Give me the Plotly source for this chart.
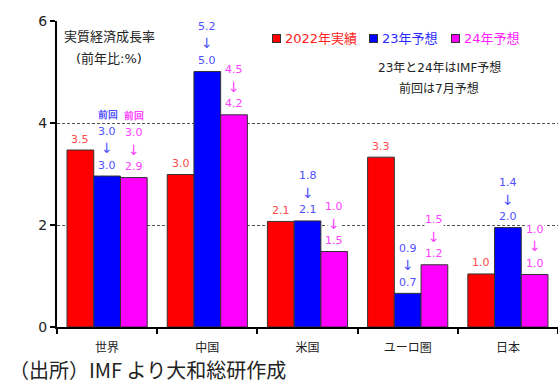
import plotly.graph_objects as go

categories = ["世界", "中国", "米国", "ユーロ圏", "日本"]
actual_2022 = [3.47, 2.99, 2.07, 3.33, 1.04]
forecast_23 = [2.96, 5.01, 2.08, 0.66, 1.95]
forecast_24 = [2.93, 4.16, 1.48, 1.22, 1.03]
label_2022 = ["3.5", "3.0", "2.1", "3.3", "1.0"]
label_23 = ["3.0", "5.0", "2.1", "0.7", "2.0"]
label_24 = ["2.9", "4.2", "1.5", "1.2", "1.0"]
prev_23 = ["3.0", "5.2", "1.8", "0.9", "1.4"]
prev_24 = ["3.0", "4.5", "1.0", "1.5", "1.0"]
series_names = ["2022年実績", "23年予想", "24年予想"]

bar_colors = ["#ff0000", "#0000ff", "#ff00ff"]
label_colors = ["#ff4a4a", "#4f4fff", "#ff40ff"]
legend_text_colors = ["#ff2020", "#2a2aff", "#ff20ff"]

W, H = 558, 385
ML, MR, MT, MB = 57, 0, 21, 58
plot_w = W - ML - MR
plot_h = H - MT - MB
cat_px = plot_w / len(categories)
bar_px = cat_px * 0.8 / 3

fig = go.Figure()
for vals, name, col in zip([actual_2022, forecast_23, forecast_24], series_names, bar_colors):
    fig.add_trace(go.Bar(x=categories, y=vals, name=name, marker=dict(color=col, line=dict(color="#333333", width=1)),
                         showlegend=False))

annots = []
font_lbl = "DejaVu Sans"

def add_label(cat, y, text, color, xs, ys, size=11, bold=False):
    annots.append(dict(x=cat, y=y, xref="x", yref="y", text=("<b>%s</b>" % text) if bold else text,
                       showarrow=False, xshift=xs, yshift=ys, bgcolor="white", borderpad=0,
                       xanchor="center", yanchor="middle",
                       font=dict(family=font_lbl, size=size, color=color)))

for i, c in enumerate(categories):
    add_label(c, actual_2022[i], label_2022[i], label_colors[0], -bar_px, 11)
    for k, (vals, cur, prev) in enumerate([(forecast_23, label_23, prev_23), (forecast_24, label_24, prev_24)]):
        xs = bar_px * k
        col = label_colors[k + 1]
        add_label(c, vals[i], cur[i], col, xs, 11)
        add_label(c, vals[i], "↓", col, xs, 28, size=14)
        add_label(c, vals[i], prev[i], col, xs, 45)
        if i == 0:
            add_label(c, vals[i], "前回", col, xs, 62, size=10, bold=True)

def px_x(px):
    return (px - ML) / plot_w

def px_y(py):
    return (H - MB - py) / plot_h

# legend (manual)
leg_sq_x = [276, 373, 455]
leg_txt_x = [283, 380, 462]
for k in range(3):
    annots.append(dict(x=px_x(leg_sq_x[k]), y=px_y(38), xref="paper", yref="paper", text="", width=7, height=7,
                       xanchor="center", yanchor="middle",
                       showarrow=False, bgcolor=bar_colors[k], bordercolor="#333333", borderwidth=1, borderpad=0))
    annots.append(dict(x=px_x(leg_txt_x[k]), y=px_y(38), xref="paper", yref="paper", text=series_names[k],
                       xanchor="left", yanchor="middle", showarrow=False,
                       font=dict(family="DejaVu Sans, Noto Sans CJK JP", size=13, color=legend_text_colors[k])))

text_font = dict(family="DejaVu Sans, Noto Sans CJK JP", size=12, color="#222222")
annots.append(dict(x=px_x(439), y=px_y(67), xref="paper", yref="paper", text="23年と24年はIMF予想",
                   xanchor="center", yanchor="middle", showarrow=False, font=text_font))
annots.append(dict(x=px_x(439), y=px_y(88), xref="paper", yref="paper", text="前回は7月予想",
                   xanchor="center", yanchor="middle", showarrow=False, font=text_font))
annots.append(dict(x=px_x(109), y=px_y(36), xref="paper", yref="paper", text="実質経済成長率",
                   xanchor="center", yanchor="middle", showarrow=False, bgcolor="white",
                   font=dict(family="DejaVu Sans, Noto Sans CJK JP", size=13, color="#222222")))
annots.append(dict(x=px_x(109), y=px_y(58), xref="paper", yref="paper", text="(前年比:%)",
                   xanchor="center", yanchor="middle", showarrow=False,
                   font=dict(family="DejaVu Sans, Noto Sans CJK JP", size=13, color="#222222")))
annots.append(dict(x=px_x(8), y=px_y(369), xref="paper", yref="paper", text="（出所）IMF より大和総研作成",
                   xanchor="left", yanchor="middle", showarrow=False, borderpad=0,
                   font=dict(family="Noto Sans CJK JP", size=20, color="#222222")))

fig.update_layout(
    width=W, height=H,
    margin=dict(l=ML, r=MR, t=MT, b=MB, pad=0),
    paper_bgcolor="white", plot_bgcolor="white",
    barmode="group", bargap=0.2, bargroupgap=0,
    annotations=annots,
    showlegend=False,
    xaxis=dict(type="category", tickson="boundaries", ticks="outside", ticklen=5, tickwidth=2, tickcolor="black",
               showline=True, linecolor="black", linewidth=2, showgrid=False, ticklabelstandoff=9,
               tickfont=dict(family="Noto Sans CJK JP", size=12, color="#222222")),
    yaxis=dict(range=[0, 6], tickvals=[0, 2, 4, 6], ticks="outside", ticklen=5, tickwidth=2, tickcolor="black",
               showline=True, linecolor="black", linewidth=2, showgrid=True, gridcolor="#555555", gridwidth=1,
               griddash="3px,2px", zeroline=False,
               tickfont=dict(family="DejaVu Sans", size=14, color="#222222")),
)

fig.write_html("out.html")
